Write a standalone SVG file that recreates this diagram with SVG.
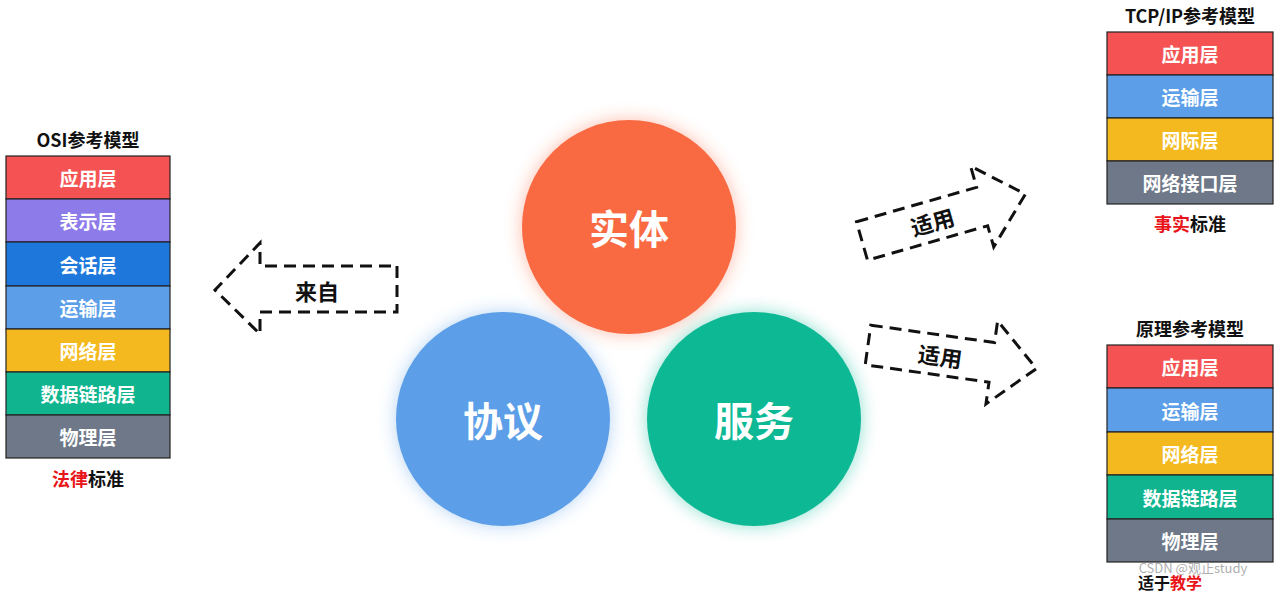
<svg xmlns="http://www.w3.org/2000/svg" width="1277" height="592" viewBox="0 0 1277 592">
<style>
.title{font-family:"Noto Sans CJK SC","Liberation Sans",sans-serif;font-weight:700;font-size:18px;fill:#111;text-anchor:middle}
.layer{font-family:"Noto Sans CJK SC","Liberation Sans",sans-serif;font-weight:700;font-size:19px;fill:#fff;text-anchor:middle;dominant-baseline:central}
.cap{font-family:"Noto Sans CJK SC","Liberation Sans",sans-serif;font-weight:700;font-size:18px;fill:#111;text-anchor:middle}
.red{fill:#E8141A}
.big{font-family:"Noto Sans CJK SC","Liberation Sans",sans-serif;font-weight:700;font-size:40px;fill:#fff;text-anchor:middle;dominant-baseline:central}
.arrowtxt{font-family:"Noto Sans CJK SC","Liberation Sans",sans-serif;font-weight:700;font-size:22px;fill:#111;text-anchor:middle;dominant-baseline:central}
.dash{fill:none;stroke:#111;stroke-width:3;stroke-dasharray:12 7}
.box{stroke:#222;stroke-width:1.2}
.c1{fill:#F55353}.c2{fill:#8E7BEA}.c3{fill:#1E78DC}.c4{fill:#5C9FE8}.c5{fill:#F4B91E}.c6{fill:#10B58F}.c7{fill:#6E7888}
</style>
<defs>
<filter id="glow" x="-30%" y="-30%" width="160%" height="160%">
<feGaussianBlur in="SourceGraphic" stdDeviation="9" result="b"/>
<feComponentTransfer in="b" result="bb"><feFuncA type="linear" slope="0.45"/></feComponentTransfer>
<feMerge><feMergeNode in="bb"/><feMergeNode in="SourceGraphic"/></feMerge>
</filter>
</defs>

<g id="osi">
<text class="title" x="88" y="147">OSI参考模型</text>
<rect class="box c1" x="6" y="156" width="164" height="43"/>
<rect class="box c2" x="6" y="199" width="164" height="43"/>
<rect class="box c3" x="6" y="242" width="164" height="44"/>
<rect class="box c4" x="6" y="286" width="164" height="43"/>
<rect class="box c5" x="6" y="329" width="164" height="43"/>
<rect class="box c6" x="6" y="372" width="164" height="43"/>
<rect class="box c7" x="6" y="415" width="164" height="43"/>
<text class="layer" x="88" y="177">应用层</text>
<text class="layer" x="88" y="220">表示层</text>
<text class="layer" x="88" y="264">会话层</text>
<text class="layer" x="88" y="307">运输层</text>
<text class="layer" x="88" y="350">网络层</text>
<text class="layer" x="88" y="393">数据链路层</text>
<text class="layer" x="88" y="436">物理层</text>
<text class="cap" x="88" y="486"><tspan class="red">法律</tspan>标准</text>
</g>

<g id="tcpip">
<text class="title" x="1190" y="23">TCP/IP参考模型</text>
<rect class="box c1" x="1107" y="32" width="166" height="43"/>
<rect class="box c4" x="1107" y="75" width="166" height="43"/>
<rect class="box c5" x="1107" y="118" width="166" height="43"/>
<rect class="box c7" x="1107" y="161" width="166" height="43"/>
<text class="layer" x="1190" y="53">应用层</text>
<text class="layer" x="1190" y="96">运输层</text>
<text class="layer" x="1190" y="139">网际层</text>
<text class="layer" x="1190" y="182">网络接口层</text>
<text class="cap" x="1190" y="231"><tspan class="red">事实</tspan>标准</text>
</g>

<g id="principle">
<text class="title" x="1190" y="336">原理参考模型</text>
<rect class="box c1" x="1107" y="345" width="166" height="43"/>
<rect class="box c4" x="1107" y="388" width="166" height="44"/>
<rect class="box c5" x="1107" y="432" width="166" height="43"/>
<rect class="box c6" x="1107" y="475" width="166" height="44"/>
<rect class="box c7" x="1107" y="519" width="166" height="43"/>
<text class="layer" x="1190" y="540">物理层</text>
<text class="layer" x="1190" y="366">应用层</text>
<text class="layer" x="1190" y="410">运输层</text>
<text class="layer" x="1190" y="453">网络层</text>
<text class="layer" x="1190" y="497">数据链路层</text>
<text x="1193" y="573" style="font-family:'Noto Sans CJK SC','Liberation Sans',sans-serif;font-size:13px;fill:#999;fill-opacity:0.8;text-anchor:middle">CSDN @观止study</text>
<text class="cap" x="1170" y="589" style="font-size:16px">适于<tspan class="red">教学</tspan></text>
</g>

<g id="entity">
<circle cx="629" cy="227" r="107" fill="#FA6A43" filter="url(#glow)"/>
<text class="big" x="629" y="227">实体</text>
</g>
<g id="protocol">
<circle cx="503" cy="419" r="107" fill="#5B9FE8" filter="url(#glow)"/>
<text class="big" x="503" y="419">协议</text>
</g>
<g id="service">
<circle cx="754" cy="419" r="107" fill="#10B894" filter="url(#glow)"/>
<text class="big" x="754" y="419">服务</text>
</g>

<g id="connectors">
<g id="from">
<path class="dash" d="M397,266 L397,312 L260,312 L260,334 L215,290 L260,243 L260,266 Z"/>
<text class="arrowtxt" x="317" y="290">来自</text>
</g>
<g id="apply1" transform="translate(862,241) rotate(-16)">
<path class="dash" d="M0,-20 L125,-20 L125,-42 L170,0 L125,42 L125,20 L0,20 Z"/>
<text class="arrowtxt" x="73" y="0">适用</text>
</g>
<g id="apply2" transform="translate(868,345) rotate(8)">
<path class="dash" d="M0,-20 L125,-20 L125,-42 L170,0 L125,42 L125,20 L0,20 Z"/>
<text class="arrowtxt" x="73" y="0">适用</text>
</g>
</g>
</svg>
